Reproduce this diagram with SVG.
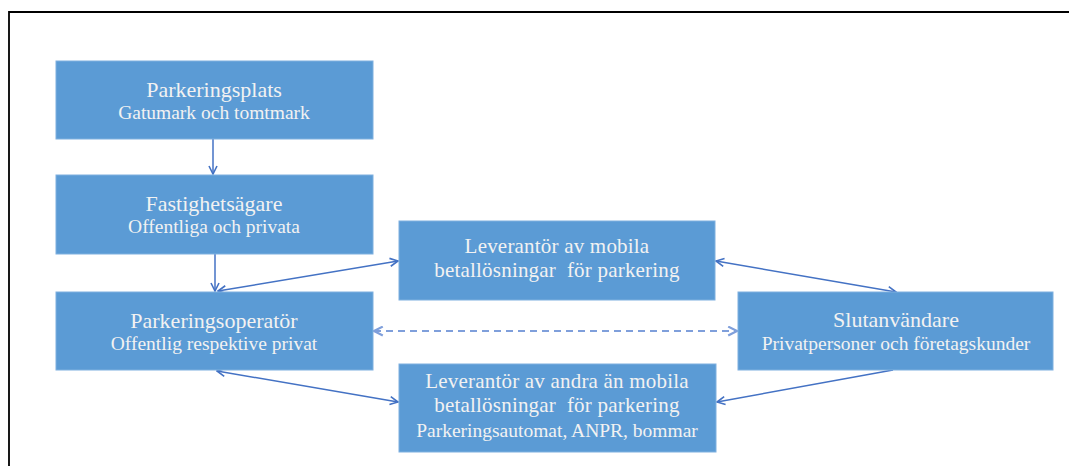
<svg xmlns="http://www.w3.org/2000/svg" width="1069" height="466" viewBox="0 0 1069 466">
<style>
.box{fill:#5b9bd5;stroke:#7fb0df;stroke-width:1}
.t1{font-family:"Liberation Serif",serif;font-size:22px;fill:#f2f2f2;text-anchor:middle}
.t1s{font-family:"Liberation Serif",serif;font-size:21px;letter-spacing:0.2px;fill:#f2f2f2;text-anchor:middle}
.t2{font-family:"Liberation Serif",serif;font-size:19.5px;fill:#f2f2f2;text-anchor:middle}
.con{stroke:#4472c4;stroke-width:1.5;fill:none}
.dash{stroke:#7f9fdb;stroke-width:2.2;fill:none;stroke-dasharray:7 5}
</style>
<defs>
<marker id="ah" viewBox="0 0 10 10" refX="9" refY="5" markerWidth="10" markerHeight="10" markerUnits="userSpaceOnUse" orient="auto-start-reverse">
<path d="M1,1 L9,5 L1,9" fill="none" stroke="#4472c4" stroke-width="1.6"/>
</marker>
<marker id="ahd" viewBox="0 0 10 10" refX="9" refY="5" markerWidth="11" markerHeight="11" markerUnits="userSpaceOnUse" orient="auto-start-reverse">
<path d="M1,1 L9,5 L1,9" fill="none" stroke="#7f9fdb" stroke-width="2"/>
</marker>
</defs>
<rect x="0" y="0" width="1069" height="466" fill="#ffffff"/>
<path d="M9,466 L9,12 L1069,12" fill="none" stroke="#000" stroke-width="1.8"/>
<g id="connectors">
<line class="con" x1="213" y1="139" x2="213" y2="174" marker-end="url(#ah)"/>
<line class="con" x1="215" y1="254" x2="215" y2="291" marker-end="url(#ah)"/>
<line class="con" x1="218" y1="291" x2="398" y2="261" marker-start="url(#ah)" marker-end="url(#ah)"/>
<line class="con" x1="716" y1="261" x2="896" y2="292" marker-start="url(#ah)" marker-end="url(#ah)"/>
<line class="con" x1="217" y1="371" x2="398" y2="402" marker-start="url(#ah)" marker-end="url(#ah)"/>
<line class="con" x1="893" y1="370" x2="717" y2="402" marker-end="url(#ah)"/>
<line class="dash" x1="374" y1="331" x2="737" y2="331" marker-start="url(#ahd)" marker-end="url(#ahd)"/>
</g>
<g id="parkeringsplats">
<rect class="box" x="56" y="61" width="317" height="78"/>
<text class="t1" x="214" y="97">Parkeringsplats</text>
<text class="t2" x="214" y="119">Gatumark och tomtmark</text>
</g>
<g id="fastighetsagare">
<rect class="box" x="56" y="175" width="317" height="79"/>
<text class="t1" x="214" y="211">Fastighetsägare</text>
<text class="t2" x="214" y="233">Offentliga och privata</text>
</g>
<g id="parkeringsoperator">
<rect class="box" x="56" y="292" width="317" height="78"/>
<text class="t1" x="214" y="328">Parkeringsoperatör</text>
<text class="t2" x="214" y="350">Offentlig respektive privat</text>
</g>
<g id="leverantor-mobila">
<rect class="box" x="399" y="221" width="316" height="79"/>
<text class="t1s" x="557" y="253">Leverantör av mobila</text>
<text class="t1s" x="557" y="277" xml:space="preserve">betallösningar  för parkering</text>
</g>
<g id="slutanvandare">
<rect class="box" x="738" y="292" width="315" height="78"/>
<text class="t1" x="896" y="327">Slutanvändare</text>
<text class="t2" x="896" y="350">Privatpersoner och företagskunder</text>
</g>
<g id="leverantor-andra">
<rect class="box" x="399" y="364" width="317" height="88"/>
<text class="t1s" x="557" y="388">Leverantör av andra än mobila</text>
<text class="t1s" x="557" y="412" xml:space="preserve">betallösningar  för parkering</text>
<text class="t2" x="557" y="437">Parkeringsautomat, ANPR, bommar</text>
</g>
</svg>
